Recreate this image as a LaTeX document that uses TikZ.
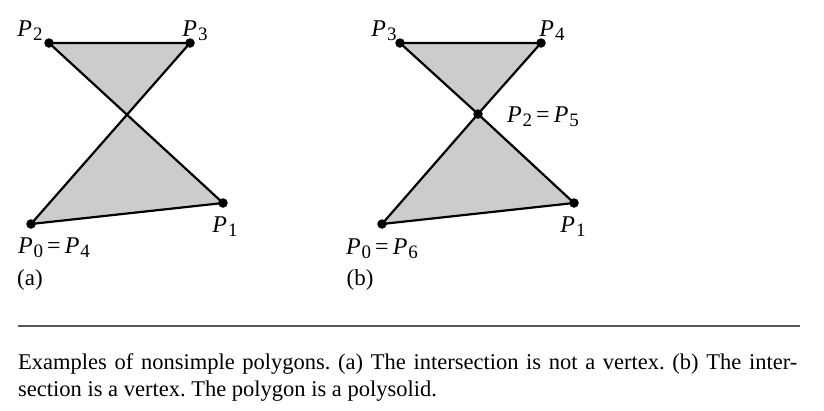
\documentclass[tikz,border=0pt]{standalone}
\usepackage{fontspec}
\setmainfont{Liberation Serif}
\usetikzlibrary{positioning}
\tikzstyle{vertex} = [circle, fill=black, inner sep=0pt, minimum size=9.5pt]
\tikzstyle{poly} = [draw, line width=2.2pt, fill=black!20, line join=round]
\tikzstyle{plabel} = [font=\fontsize{24}{24}\selectfont, inner sep=0pt]
\tikzstyle{tag} = [font=\fontsize{23}{23}\selectfont, inner sep=0pt]
\newcommand{\Pv}[1]{\textit{P}\kern1pt\raisebox{-0.17em}{\fontsize{19}{19}\selectfont #1}}

\begin{document}
\begin{tikzpicture}[x=1pt, y=-1pt]
    \useasboundingbox (0,0) rectangle (824,410);

    % (a) the sides cross, but not at a vertex
    \coordinate (a0) at (31,224);
    \coordinate (a1) at (223,203);
    \coordinate (a2) at (49,43);
    \coordinate (a3) at (190,43);
    \draw [poly] (a0) -- (a1) -- (a2) -- (a3) -- cycle;
    \foreach \v in {a0,a1,a2,a3} \node [vertex] (dot-\v) at (\v) {};

    \node [plabel] (la2) at (30,31) {\Pv{2}};
    \node [plabel] (la3) at (195,31) {\Pv{3}};
    \node [plabel] (la1) at (225,227) {\Pv{1}};
    \node [plabel] (la0) at (54,248) {\Pv{0}\,=\,\Pv{4}};
    \node [tag] (taga) at (30,280) {(a)};

    % (b) the sides meet at a vertex
    \coordinate (b0) at (382,224);
    \coordinate (b1) at (574,203);
    \coordinate (b2) at (478,114);
    \coordinate (b3) at (400,43);
    \coordinate (b4) at (541,43);
    \draw [poly] (b0) -- (b1) -- (b2) -- (b3) -- (b4) -- (b2) -- cycle;
    \foreach \v in {b0,b1,b2,b3,b4} \node [vertex] (dot-\v) at (\v) {};

    \node [plabel] (lb3) at (384,31) {\Pv{3}};
    \node [plabel] (lb4) at (552,31) {\Pv{4}};
    \node [plabel] (lb2) at (543,117) {\Pv{2}\,=\,\Pv{5}};
    \node [plabel] (lb1) at (573,227) {\Pv{1}};
    \node [plabel] (lb0) at (382,249) {\Pv{0}\,=\,\Pv{6}};
    \node [tag] (tagb) at (360,280) {(b)};

    % caption
    \draw [line width=1.5pt, black!65] (18,326) -- (800,326);
    \node [anchor=north west, text width=779pt, align=justify, inner sep=0pt,
        font=\fontsize{22.5}{27.5}\selectfont\frenchspacing] (caption) at (18,353)
        {Examples of nonsimple polygons. (a) The intersection is not a vertex. (b) The inter-\linebreak section is a vertex. The polygon is a polysolid.};
\end{tikzpicture}
\end{document}
